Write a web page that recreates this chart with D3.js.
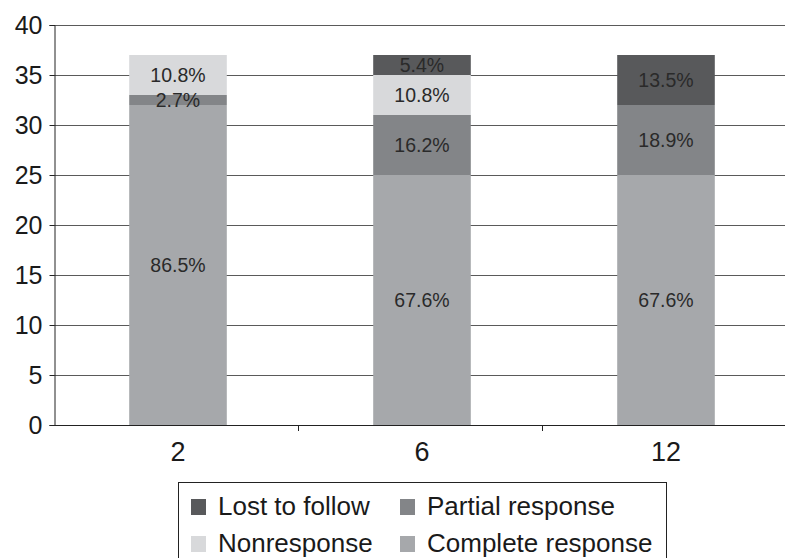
<!DOCTYPE html>
<html><head><meta charset="utf-8">
<script src="https://cdn.jsdelivr.net/npm/d3@7/dist/d3.min.js"></script>
<style>body{margin:0;background:#fff;}svg{display:block;}</style>
</head><body>
<svg id="c" width="785" height="558"></svg>
<script>
const categories = ["2", "6", "12"];
const seriesNames = ["Complete response", "Partial response", "Nonresponse", "Lost to follow"];
const completeResponse = [32, 25, 25];
const partialResponse = [1, 6, 7];
const nonresponse = [4, 4, 0];
const lostToFollow = [0, 2, 5];
const completeLabels = ["86.5%", "67.6%", "67.6%"];
const partialLabels = ["2.7%", "16.2%", "18.9%"];
const nonLabels = ["10.8%", "10.8%", ""];
const lostLabels = ["", "5.4%", "13.5%"];
const yTicks = [0, 5, 10, 15, 20, 25, 30, 35, 40];
const colors = {"Complete response": "#a6a8ab", "Partial response": "#838588", "Nonresponse": "#d8d9db", "Lost to follow": "#58595b"};

(function () {
const rows = categories.map((c, i) => ({cat: c,
  "Complete response": completeResponse[i], "Partial response": partialResponse[i],
  "Nonresponse": nonresponse[i], "Lost to follow": lostToFollow[i]}));
const labels = {"Complete response": completeLabels, "Partial response": partialLabels,
  "Nonresponse": nonLabels, "Lost to follow": lostLabels};

const svg = d3.select("#c");
const mL = 54, mR = 786, mT = 25, mB = 425;
const x = d3.scaleBand().domain(categories).range([mL + 2, mR + 2]).paddingInner(0.6).paddingOuter(0.3);
const xb = d3.scaleBand().domain(categories).range([mL, mR]);
const y = d3.scaleLinear().domain([0, 40]).range([mB, mT]);
const font = "Liberation Sans, Arial, Helvetica, sans-serif";

// gridlines
svg.append("g").selectAll("line").data(yTicks.filter(d => d > 0)).join("line")
  .attr("x1", mL).attr("x2", 785).attr("y1", d => y(d) + 0.5).attr("y2", d => y(d) + 0.5)
  .attr("stroke", "#5a5a5a").attr("stroke-width", 1);

const stack = d3.stack().keys(seriesNames)(rows);
const g = svg.append("g");
stack.forEach(layer => {
  const key = layer.key;
  g.selectAll(null).data(layer).join("rect")
    .attr("x", d => x(d.data.cat)).attr("width", x.bandwidth())
    .attr("y", d => y(d[1])).attr("height", d => y(d[0]) - y(d[1]))
    .attr("fill", colors[key]);
});
stack.forEach(layer => {
  const key = layer.key;
  g.selectAll(null).data(layer).join("text")
    .attr("x", d => x(d.data.cat) + x.bandwidth() / 2)
    .attr("y", d => y((d[0] + d[1]) / 2))
    .attr("dy", "0.36em")
    .attr("text-anchor", "middle")
    .attr("font-family", font).attr("font-size", 19.5).attr("fill", "#2a2a2a")
    .text((d, i) => labels[key][i]);
});

// y axis
const ya = svg.append("g").attr("transform", `translate(${mL + 0.5},0)`)
  .call(d3.axisLeft(y).tickValues(yTicks).tickSize(5).tickPadding(7));
ya.select(".domain").attr("stroke", "#222");
ya.selectAll(".tick line").attr("stroke", "#222");
ya.selectAll(".tick text").attr("font-family", font).attr("font-size", 25).attr("fill", "#1a1a1a");

// x axis
const xa = svg.append("g").attr("transform", `translate(0,${mB + 0.5})`)
  .call(d3.axisBottom(xb).tickSize(0).tickPadding(16));
xa.select(".domain").attr("stroke", "#222").attr("d", `M${mL},0H785`);
xa.selectAll(".tick").attr("transform", d => `translate(${x(d) + x.bandwidth() / 2},0)`);
xa.selectAll(".tick text").attr("font-family", font).attr("font-size", 27).attr("fill", "#1a1a1a");
svg.append("g").selectAll("line").data(categories.slice(1).concat(["end"])).join("line")
  .attr("x1", (d, i) => Math.round(mL + xb.step() * (i + 1)) + 0.5)
  .attr("x2", (d, i) => Math.round(mL + xb.step() * (i + 1)) + 0.5)
  .attr("y1", mB).attr("y2", mB + 6).attr("stroke", "#222");

// legend
const lg = svg.append("g");
lg.append("rect").attr("x", 178.5).attr("y", 482.5).attr("width", 488).attr("height", 90)
  .attr("fill", "#fff").attr("stroke", "#222");
const legendItems = [
  {name: "Lost to follow", col: 0, row: 0},
  {name: "Partial response", col: 1, row: 0},
  {name: "Nonresponse", col: 0, row: 1},
  {name: "Complete response", col: 1, row: 1}
];
const lgx = [191, 400], lgy = [515, 552];
legendItems.forEach(it => {
  lg.append("rect").attr("x", lgx[it.col]).attr("y", lgy[it.row] - 16).attr("width", 15).attr("height", 16)
    .attr("fill", colors[it.name]);
  lg.append("text").attr("x", lgx[it.col] + 27).attr("y", lgy[it.row])
    .attr("font-family", font).attr("font-size", 26).attr("fill", "#1a1a1a").text(it.name);
});
})();
</script>
</body></html>
